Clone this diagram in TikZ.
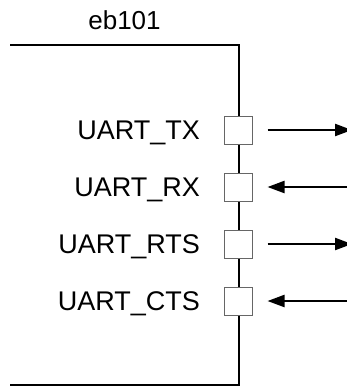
\documentclass[tikz,border=0pt]{standalone}
\usepackage{fontspec}
\setmainfont{Liberation Sans}
\usetikzlibrary{arrows.meta}
\begin{document}
\begin{tikzpicture}[x=1pt,y=-1pt,
  blockline/.style={line width=2pt,black},
  pinbox/.style={draw=black!60,fill=white,line width=1pt,minimum width=28pt,minimum height=28pt,inner sep=0pt},
  pinlabel/.style={anchor=base east,inner sep=0pt,font=\fontsize{27}{32}\selectfont},
  sig/.style={line width=2.2pt,-{Triangle[length=17pt,width=12pt]}},
  sigin/.style={line width=2.2pt,{Triangle[length=17pt,width=12pt]}-}]
\useasboundingbox (0,0) rectangle (346,386);
\coordinate (tl) at (10,45);
\coordinate (tr) at (238.5,45);
\coordinate (br) at (238.5,385);
\coordinate (bl) at (10,385);
\draw[blockline] (tl) -- (tr) -- (br) -- (bl);
\node[inner sep=0pt,anchor=base,font=\fontsize{26}{30}\selectfont] (title) at (124.5,29.5) {eb101};
\node[pinbox] (tx) at (238.5,130) {};
\node[pinbox] (rx) at (238.5,187) {};
\node[pinbox] (rts) at (238.5,244) {};
\node[pinbox] (cts) at (238.5,301) {};
\node[pinlabel] (ltx) at (200,139.7) {UART\_TX};
\node[pinlabel] (lrx) at (200,196.7) {UART\_RX};
\node[pinlabel] (lrts) at (200,253.7) {UART\_RTS};
\node[pinlabel] (lcts) at (200,310.7) {UART\_CTS};
\coordinate (otx) at (352,130);
\coordinate (orx) at (352,187);
\coordinate (orts) at (352,244);
\coordinate (octs) at (352,301);
\draw[sig,shorten <=14.5pt] (tx.east) -- (otx);
\draw[sigin,shorten <=14.5pt] (rx.east) -- (orx);
\draw[sig,shorten <=14.5pt] (rts.east) -- (orts);
\draw[sigin,shorten <=14.5pt] (cts.east) -- (octs);
\end{tikzpicture}
\end{document}
